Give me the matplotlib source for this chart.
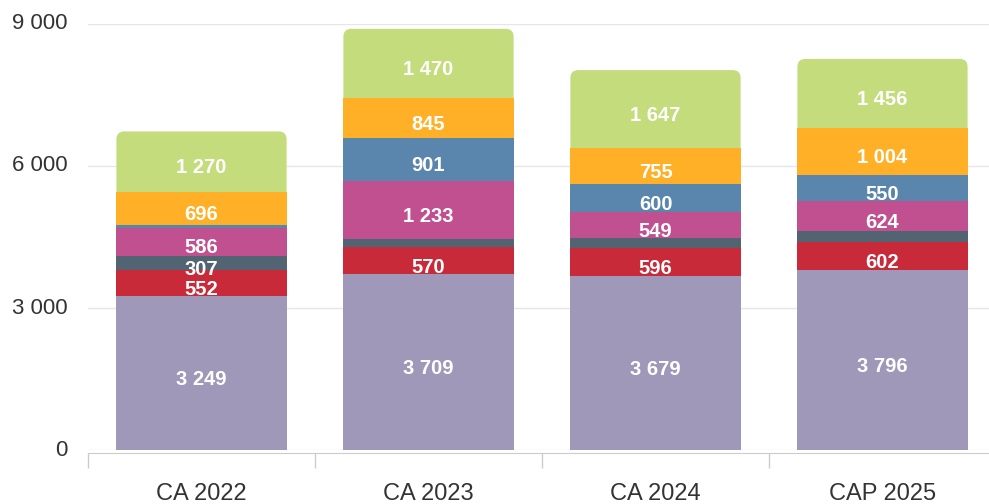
import matplotlib.pyplot as plt
from matplotlib.patches import FancyBboxPatch
from matplotlib.ticker import FuncFormatter
import numpy as np

plt.rcParams['font.family'] = ['Liberation Sans', 'DejaVu Sans']

categories = ['CA 2022', 'CA 2023', 'CA 2024', 'CAP 2025']

# stacked series, bottom to top
s1 = [3249, 3709, 3679, 3796]
s2 = [552, 570, 596, 602]
s3 = [307, 170, 200, 230]
s4 = [586, 1233, 549, 624]
s5 = [70, 901, 600, 550]
s6 = [696, 845, 755, 1004]
s7 = [1270, 1470, 1647, 1456]

series = [s1, s2, s3, s4, s5, s6, s7]
colors = ['#9f98b8', '#c82a3a', '#526472', '#c05090', '#5a86ad', '#ffb026', '#c4dc7c']
min_label = 250  # small segments are left unlabeled

fig = plt.figure(figsize=(9.89, 5.04), dpi=100)
ax = fig.add_axes([88/989, 54/504, 908/989, 426/504])

x = np.arange(len(categories))
width = 0.75
bottom = np.zeros(len(categories))

for i, (vals, col) in enumerate(zip(series, colors)):
    vals = np.array(vals, dtype=float)
    bars = ax.bar(x, vals, width, bottom=bottom, color=col, zorder=3, linewidth=0)
    if i == len(series) - 1:
        # top segment: rounded top corners (drawn from 0 so bottom corners stay hidden)
        for b in bars:
            b.set_visible(False)
            r = FancyBboxPatch((b.get_x(), 0), b.get_width(), b.get_y() + b.get_height(),
                               boxstyle='round,pad=0,rounding_size=0.035',
                               mutation_aspect=9000 / 426 * 227,
                               facecolor=col, linewidth=0, zorder=2)
            ax.add_patch(r)
    for xi, v, b0 in zip(x, vals, bottom):
        if v >= min_label:
            ax.annotate(f'{int(v):,}'.replace(',', ' '), (xi, b0 + v / 2),
                        xytext=(0, -4.5), textcoords='offset points',
                        ha='center', va='center', color='white', fontsize=14.5,
                        fontweight='bold', zorder=5)
    bottom += vals

ax.set_xlim(-0.5, 3.5)
ax.set_ylim(0, 9000)
ax.set_yticks([0, 3000, 6000, 9000])
ax.yaxis.set_major_formatter(FuncFormatter(lambda v, p: f'{int(v):,}'.replace(',', ' ')))
ax.grid(axis='y', color='#e6e6e6', linewidth=1, zorder=0)
ax.set_axisbelow(True)

ax.set_xticks(x)
ax.set_xticklabels(categories)
ax.set_xticks(np.arange(-0.5, 4, 1), minor=True)
ax.tick_params(axis='x', which='major', length=0, pad=22, labelsize=17, labelcolor='#333333')
ax.tick_params(axis='x', which='minor', length=11, color='#cccccc', width=1)
ax.tick_params(axis='y', length=0, pad=15, labelsize=16, labelcolor='#333333')
for t in ax.get_yticklabels():
    t.set_va('center')

for s in ['top', 'right', 'left']:
    ax.spines[s].set_visible(False)
ax.spines['bottom'].set_color('#cccccc')
ax.spines['bottom'].set_position(('outward', 2))

fig.savefig('out.png', dpi=100)
